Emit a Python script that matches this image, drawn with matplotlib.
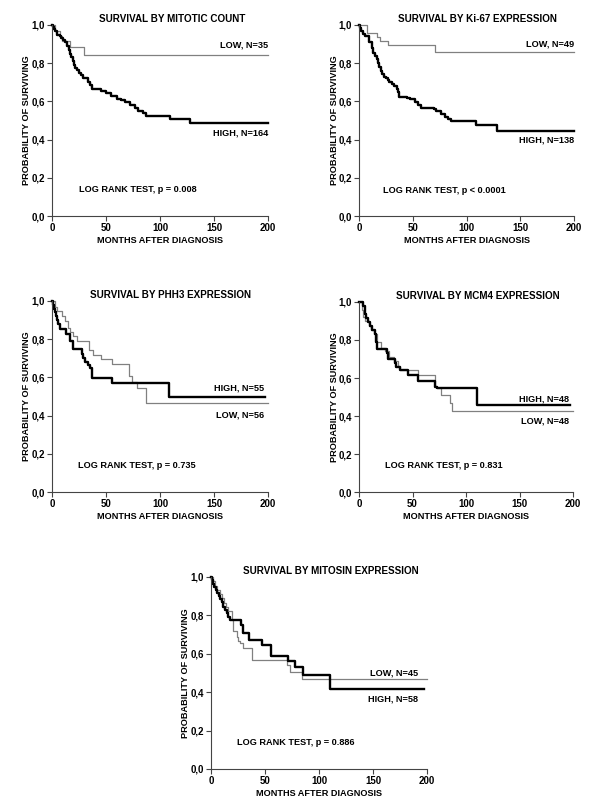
import matplotlib
matplotlib.use('Agg')
import matplotlib.pyplot as plt

plt.rcParams['font.family'] = ['Liberation Sans', 'DejaVu Sans']
plt.rcParams['font.weight'] = 'bold'

# ---- data (months, survival fraction) ----
mitotic_high_t = [0, 1, 2, 3, 5, 7, 8, 10, 12, 14, 16, 17, 18, 19, 20, 21, 23, 25, 27, 29, 33, 35,
                  37, 45, 50, 55, 60, 64, 68, 72, 77, 80, 84, 87, 109, 128, 200]
mitotic_high_s = [1.0, 0.99, 0.98, 0.97, 0.95, 0.94, 0.93, 0.92, 0.91, 0.89, 0.87, 0.85, 0.83, 0.81,
                  0.79, 0.775, 0.765, 0.75, 0.74, 0.725, 0.70, 0.685, 0.665, 0.655, 0.645, 0.63, 0.615,
                  0.605, 0.595, 0.58, 0.565, 0.55, 0.54, 0.525, 0.51, 0.485, 0.485]
mitotic_low_t = [0, 2.5, 7, 9, 17, 30, 200]
mitotic_low_s = [1.0, 0.971, 0.943, 0.914, 0.886, 0.843, 0.843]

ki67_high_t = [0, 1, 2, 4, 6, 9, 12, 13, 15, 17, 18, 19, 20, 21, 23, 25, 27, 28, 31, 33, 35, 36,
               37.5, 45, 47, 52, 55, 57.7, 70, 72, 76, 80, 83, 85.6, 108.8, 128, 200]
ki67_high_s = [1.0, 0.985, 0.97, 0.955, 0.94, 0.91, 0.88, 0.855, 0.84, 0.82, 0.80, 0.78, 0.76, 0.745,
               0.73, 0.72, 0.71, 0.70, 0.69, 0.68, 0.665, 0.65, 0.625, 0.62, 0.61, 0.595, 0.58, 0.565,
               0.56, 0.55, 0.535, 0.52, 0.51, 0.495, 0.476, 0.447, 0.447]
ki67_low_t = [0, 7.4, 16.5, 19.5, 26.7, 70.7, 200]
ki67_low_s = [1.0, 0.96, 0.937, 0.914, 0.894, 0.857, 0.857]

phh3_high_t = [0, 1, 2, 3, 4, 5, 6, 7.4, 13, 16.7, 19.7, 27.5, 29, 30.6, 33, 35.2, 36.7, 55.2, 108, 197.5]
phh3_high_s = [1.0, 0.98, 0.96, 0.94, 0.92, 0.90, 0.88, 0.852, 0.826, 0.79, 0.747, 0.72, 0.703, 0.68,
               0.665, 0.65, 0.598, 0.569, 0.497, 0.497]
phh3_low_t = [0, 3, 4.9, 9, 12, 15, 16.7, 19, 22.8, 34.6, 37.6, 45.4, 55.5, 71.3, 74.4, 78.4, 87, 200]
phh3_low_s = [1.0, 0.97, 0.948, 0.92, 0.895, 0.86, 0.84, 0.815, 0.79, 0.743, 0.715, 0.695, 0.668,
              0.607, 0.576, 0.546, 0.467, 0.467]

mcm4_high_t = [0, 4, 6, 7, 8, 10, 12, 15, 16, 17, 26, 27.4, 33.6, 35, 38.3, 46, 55.5, 71, 72.6, 110, 197.5]
mcm4_high_s = [1.0, 0.979, 0.937, 0.917, 0.896, 0.875, 0.854, 0.833, 0.792, 0.75, 0.73, 0.70, 0.677,
               0.66, 0.642, 0.616, 0.584, 0.554, 0.545, 0.458, 0.458]
mcm4_low_t = [0, 3, 4, 6, 9, 11, 14, 17, 21, 24, 28, 33, 36, 38.3, 55.5, 71, 73, 77, 85, 87, 200]
mcm4_low_s = [1.0, 0.958, 0.92, 0.90, 0.875, 0.85, 0.83, 0.79, 0.756, 0.74, 0.71, 0.69, 0.665, 0.642,
              0.616, 0.56, 0.545, 0.51, 0.467, 0.425, 0.425]

mitosin_high_t = [0, 1, 2, 3, 5, 6, 7, 8, 9.9, 11, 13, 15, 16, 17.6, 27.5, 30, 35.5, 47, 56, 71.6,
                  77.8, 85.5, 110, 197.5]
mitosin_high_s = [1.0, 0.983, 0.966, 0.95, 0.93, 0.915, 0.90, 0.885, 0.87, 0.845, 0.828, 0.81, 0.793,
                  0.776, 0.75, 0.707, 0.672, 0.645, 0.589, 0.56, 0.533, 0.49, 0.417, 0.417]
mitosin_low_t = [0, 2, 4, 6, 8, 10, 12, 14, 16, 19, 20.7, 23.8, 25, 27, 30, 37.7, 70, 73, 84, 200]
mitosin_low_s = [1.0, 0.978, 0.955, 0.933, 0.91, 0.89, 0.867, 0.845, 0.822, 0.776, 0.72, 0.69, 0.665,
                 0.655, 0.628, 0.57, 0.54, 0.506, 0.468, 0.468]

titles = ['SURVIVAL BY MITOTIC COUNT', 'SURVIVAL BY Ki-67 EXPRESSION', 'SURVIVAL BY PHH3 EXPRESSION',
          'SURVIVAL BY MCM4 EXPRESSION', 'SURVIVAL BY MITOSIN EXPRESSION']
pvalues = ['LOG RANK TEST, p = 0.008', 'LOG RANK TEST, p < 0.0001', 'LOG RANK TEST, p = 0.735',
           'LOG RANK TEST, p = 0.831', 'LOG RANK TEST, p = 0.886']
low_labels = ['LOW, N=35', 'LOW, N=49', 'LOW, N=56', 'LOW, N=48', 'LOW, N=45']
high_labels = ['HIGH, N=164', 'HIGH, N=138', 'HIGH, N=55', 'HIGH, N=48', 'HIGH, N=58']
x_ticks = [0, 50, 100, 150, 200]
y_ticks = [0.0, 0.2, 0.4, 0.6, 0.8, 1.0]
y_tick_labels = ['0,0', '0,2', '0,4', '0,6', '0,8', '1,0']

panels = [
    (mitotic_high_t, mitotic_high_s, mitotic_low_t, mitotic_low_s),
    (ki67_high_t, ki67_high_s, ki67_low_t, ki67_low_s),
    (phh3_high_t, phh3_high_s, phh3_low_t, phh3_low_s),
    (mcm4_high_t, mcm4_high_s, mcm4_low_t, mcm4_low_s),
    (mitosin_high_t, mitosin_high_s, mitosin_low_t, mitosin_low_s),
]

# axes boxes in pixels: left, top, right, bottom
boxes = [(52, 25, 268, 216), (359, 25, 574, 216), (52, 301, 268, 492),
         (359, 302, 573, 492), (211, 577, 427, 769)]
# label positions (x in months, y in survival): low label, high label, log-rank
low_pos = [(200, 0.895), (200, 0.90), (196, 0.403), (196, 0.373), (192, 0.50)]
high_pos = [(200, 0.433), (200, 0.40), (196, 0.546), (196, 0.489), (192, 0.365)]
p_pos = [(25, 0.14), (22, 0.136), (24, 0.141), (24, 0.138), (24.5, 0.137)]
title_x = [0.555, 0.55, 0.55, 0.555, 0.553]

W, H = 600, 809
fig = plt.figure(figsize=(W / 100, H / 100), dpi=100)

for i, (ht, hs, lt, ls) in enumerate(panels):
    l, t, r, b = boxes[i]
    ax = fig.add_axes([l / W, 1 - b / H, (r - l) / W, (b - t) / H])
    ax.step(lt, ls, where='post', color='#808080', lw=0.9, clip_on=False)
    ax.step(ht, hs, where='post', color='black', lw=1.7, clip_on=False)
    ax.set_xlim(0, 200)
    ax.set_ylim(0, 1)
    ax.set_xticks(x_ticks)
    ax.set_xticklabels([str(v) for v in x_ticks])
    ax.set_yticks(y_ticks)
    ax.set_yticklabels(y_tick_labels)
    for s in ['top', 'right']:
        ax.spines[s].set_visible(False)
    for s in ['left', 'bottom']:
        ax.spines[s].set_linewidth(0.8)
        ax.spines[s].set_color('#444444')
    ax.tick_params(direction='out', length=3.5, width=0.8, color='#444444', labelsize=7, pad=1.5)
    ax.set_xlabel('MONTHS AFTER DIAGNOSIS', fontsize=6.6, fontweight='bold')
    ax.set_ylabel('PROBABILITY OF SURVIVING', fontsize=6.6, fontweight='bold')
    ax.xaxis.set_label_coords(0.5, -0.105)
    ax.yaxis.set_label_coords(-0.095, 0.5)
    ax.text(title_x[i], 1.03, titles[i], transform=ax.transAxes, ha='center', va='center',
            fontsize=7.1, fontweight='bold')
    ax.text(low_pos[i][0], low_pos[i][1], low_labels[i], ha='right', va='center', fontsize=6.6)
    ax.text(high_pos[i][0], high_pos[i][1], high_labels[i], ha='right', va='center', fontsize=6.6)
    ax.text(p_pos[i][0], p_pos[i][1], pvalues[i], ha='left', va='center', fontsize=6.6)

fig.savefig('out.png', dpi=100)
